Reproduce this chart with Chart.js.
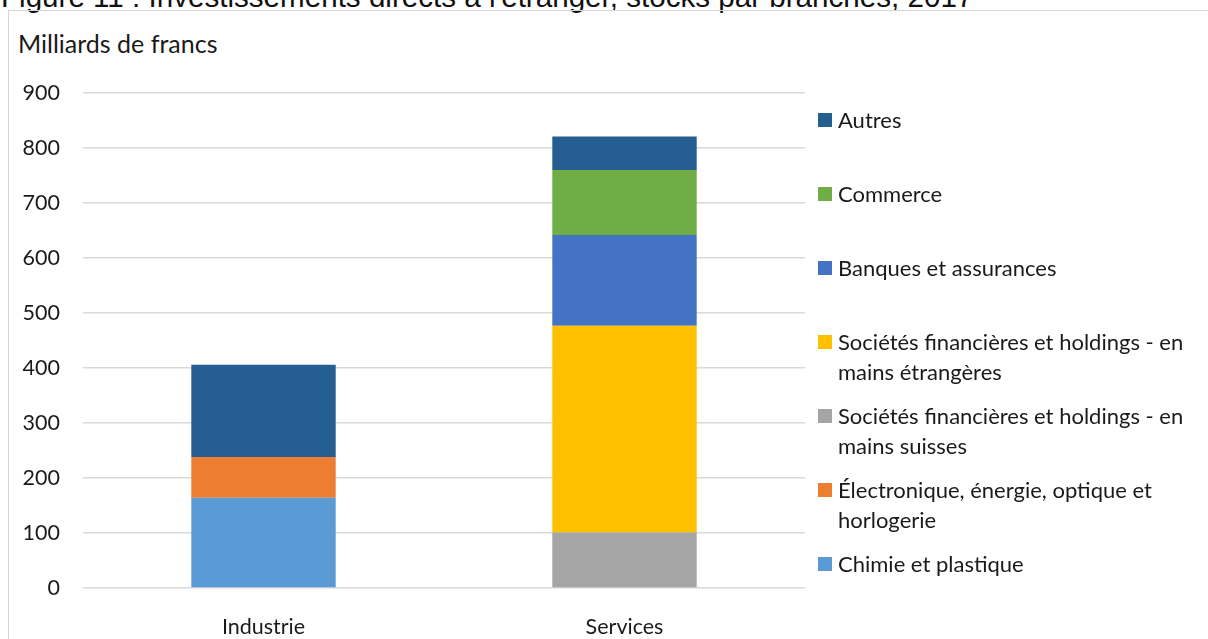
<!DOCTYPE html>
<html>
<head>
    <meta charset="UTF-8">
    <title>Investissements directs à l'étranger</title>
    <script src="https://cdn.jsdelivr.net/npm/chart.js"></script>
    <style>
        body {
            margin: 0;
            width: 1208px;
            height: 639px;
            overflow: hidden;
            background: #fff;
            position: relative;
            font-family: Lato, sans-serif;
            color: #1a1a1a;
        }

        #title {
            position: absolute;
            left: 1px;
            top: -18px;
            font-family: "Liberation Sans", Arial, sans-serif;
            font-size: 29.6px;
            line-height: 29px;
            white-space: nowrap;
            color: #111;
        }

        #frame {
            position: absolute;
            left: 8px;
            top: 10px;
            width: 1300px;
            height: 700px;
            border: 1px solid #d4d4d4;
        }

        #unit {
            position: absolute;
            left: 18px;
            top: 28px;
            font-size: 25px;
            line-height: 30px;
            white-space: nowrap;
        }

        #chart {
            position: absolute;
            left: 0;
            top: 0;
        }

        #legend {
            position: absolute;
            left: 818px;
            top: 0;
        }

        .item {
            position: absolute;
            left: 0;
            display: flex;
            align-items: flex-start;
            width: 385px;
        }

        .box {
            width: 14px;
            height: 14px;
            margin-top: 8px;
            margin-right: 6px;
            flex: none;
        }

        .label {
            font-size: 22px;
            line-height: 30px;
            width: 366px;
        }
    </style>
</head>
<body>
<div id="title">Figure 11 : Investissements directs à l'étranger, stocks par branches, 2017</div>
<div id="frame"></div>
<div id="unit">Milliards de francs</div>
<canvas id="chart" width="1208" height="639"></canvas>
<div id="legend"></div>

<script>
    // valeurs (milliards de francs)
    const categories = ["Industrie", "Services"];
    const chimie = [164, 0];
    const electronique = [74, 0];
    const holdingsSuisses = [0, 101];
    const holdingsEtrangeres = [0, 376];
    const banques = [0, 165];
    const commerce = [0, 118];
    const autres = [168, 61];
    const yTicks = [0, 100, 200, 300, 400, 500, 600, 700, 800, 900];

    const series = [
        {label: "Chimie et plastique", data: chimie, color: "#5b9bd5"},
        {label: "Électronique, énergie, optique et horlogerie", data: electronique, color: "#ed7d31"},
        {label: "Sociétés financières et holdings - en mains suisses", data: holdingsSuisses, color: "#a5a5a5"},
        {label: "Sociétés financières et holdings - en mains étrangères", data: holdingsEtrangeres, color: "#ffc000"},
        {label: "Banques et assurances", data: banques, color: "#4472c4"},
        {label: "Commerce", data: commerce, color: "#70ad47"},
        {label: "Autres", data: autres, color: "#255e91"}
    ];

    const tickFont = {family: "Lato", size: 21.5};

    const chart = new Chart(document.getElementById("chart").getContext("2d"), {
        type: "bar",
        data: {
            labels: categories,
            datasets: series.map(s => ({
                label: s.label,
                data: s.data,
                backgroundColor: s.color,
                borderWidth: 0,
                barPercentage: 0.4,
                categoryPercentage: 1
            }))
        },
        options: {
            responsive: false,
            animation: false,
            devicePixelRatio: 1,
            layout: {
                padding: {left: 10, top: 93, right: 403, bottom: 0}
            },
            plugins: {
                legend: {display: false},
                tooltip: {enabled: false}
            },
            scales: {
                x: {
                    stacked: true,
                    grid: {display: false},
                    border: {display: false},
                    ticks: {font: tickFont, color: "#1a1a1a", padding: 18},
                    afterFit: s => { s.height = 51; }
                },
                y: {
                    stacked: true,
                    min: 0,
                    max: 900,
                    afterBuildTicks: s => { s.ticks = yTicks.map(v => ({value: v})); },
                    grid: {color: "#d9d9d9", lineWidth: 1.5, drawTicks: false},
                    border: {display: false},
                    ticks: {font: tickFont, color: "#1a1a1a", padding: 23},
                    afterFit: s => { s.width = 73; }
                }
            }
        }
    });

    // légende à droite, ordre inverse de l'empilement
    const legend = document.getElementById("legend");
    chart.data.datasets.slice().reverse().forEach((ds, i) => {
        const item = document.createElement("div");
        item.className = "item";
        item.style.top = (105 + i * 74) + "px";
        item.innerHTML = `<div class="box" style="background:${ds.backgroundColor}"></div><div class="label">${ds.label}</div>`;
        legend.appendChild(item);
    });
</script>
</body>
</html>
